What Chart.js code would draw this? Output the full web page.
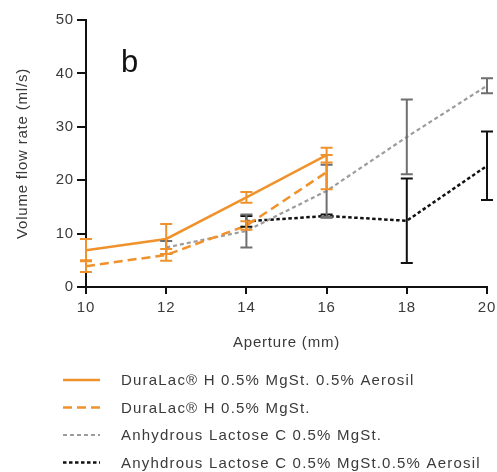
<!DOCTYPE html>
<html>
<head>
<meta charset="utf-8">
<script src="https://cdn.jsdelivr.net/npm/chart.js@4.4.0/dist/chart.umd.min.js"></script>
<style>
  html, body { margin: 0; padding: 0; background: #fff; }
  #flowChart { display: block; }
</style>
</head>
<body>
<canvas id="flowChart" width="497" height="472"></canvas>
<script>
// aperture (mm) on the x axis
const apertures = [10, 12, 14, 16, 18, 20];

// mean volume flow rate (ml/s), null where not measured
const duraAerosil = [6.9, 9.0, 16.8, 24.7, null, null];
const duraAerosilErr = [2.1, 2.8, 1.0, 1.4, null, null];

const duraMgSt = [3.9, 6.0, 11.5, 21.5, null, null];
const duraMgStErr = [1.1, 1.1, 0.8, 3.2, null, null];

const anhMgSt = [null, 7.4, 10.5, 18.0, 28.1, 37.7];
const anhMgStErr = [null, 1.2, 3.1, 4.9, 7.0, 1.4];

const anhAerosil = [null, null, 12.3, 13.3, 12.4, 22.7];
const anhAerosilErr = [null, null, 1.0, 0.3, 7.9, 6.4];

const xTicks = [10, 12, 14, 16, 18, 20];
const yTicks = [0, 10, 20, 30, 40, 50];

const seriesNames = [
  'DuraLac\u00AE H 0.5% MgSt. 0.5% Aerosil',
  'DuraLac\u00AE H 0.5% MgSt.',
  'Anhydrous Lactose C 0.5% MgSt.',
  'Anyhdrous Lactose C 0.5% MgSt.0.5% Aerosil'
];

const FONT = '"Liberation Sans", Arial, sans-serif';
const TEXT = '#3a3a3a';

function points(vals) {
  return apertures.map((x, i) => ({ x: x, y: vals[i] }));
}

// the original lettering is a little wide
const spacing = {
  id: 'spacing',
  beforeDraw(chart) { chart.ctx.letterSpacing = '0.8px'; }
};

// vertical error bars drawn through the chart's own scales
const errorBars = {
  id: 'errorBars',
  afterDatasetsDraw(chart) {
    const ctx = chart.ctx;
    const xs = chart.scales.x, ys = chart.scales.y;
    for (let d = chart.data.datasets.length - 1; d >= 0; d--) {
      const ds = chart.data.datasets[d];
      if (!ds.err) continue;
      ctx.save();
      ctx.strokeStyle = ds.errColor;
      ctx.lineWidth = 2;
      ctx.setLineDash([]);
      ds.data.forEach((p, i) => {
        const e = ds.err[i];
        if (p.y == null || e == null) return;
        const px = xs.getPixelForValue(p.x);
        const top = ys.getPixelForValue(p.y + e);
        const bot = ys.getPixelForValue(p.y - e);
        ctx.beginPath();
        ctx.moveTo(px, top); ctx.lineTo(px, bot);
        ctx.moveTo(px - 6, top); ctx.lineTo(px + 6, top);
        ctx.moveTo(px - 6, bot); ctx.lineTo(px + 6, bot);
        ctx.stroke();
      });
      ctx.restore();
    }
  }
};

// panel letter and the stacked legend below the axes
const extras = {
  id: 'extras',
  afterDraw(chart) {
    const ctx = chart.ctx;
    ctx.save();
    ctx.fillStyle = '#111';
    ctx.font = '31px ' + FONT;
    ctx.letterSpacing = '0px';
    ctx.textBaseline = 'alphabetic';
    ctx.fillText('b', 121, 72);

    ctx.font = '15px ' + FONT;
    ctx.letterSpacing = '1.2px';
    ctx.textBaseline = 'middle';
    chart.data.datasets.forEach((ds, i) => {
      const y = 380 + i * 27.5;
      ctx.strokeStyle = ds.borderColor;
      ctx.lineWidth = ds.borderWidth;
      ctx.setLineDash(ds.borderDash || []);
      ctx.beginPath();
      ctx.moveTo(63, y); ctx.lineTo(100, y);
      ctx.stroke();
      ctx.fillStyle = TEXT;
      ctx.fillText(ds.label, 121, y + 1);
    });
    ctx.restore();
  }
};

const ctx = document.getElementById('flowChart').getContext('2d');
const flowChart = new Chart(ctx, {
  type: 'line',
  data: {
    datasets: [{
      label: seriesNames[0],
      data: points(duraAerosil),
      err: duraAerosilErr,
      errColor: '#F0922B',
      borderColor: '#F0922B',
      borderWidth: 2.5,
      borderDash: []
    }, {
      label: seriesNames[1],
      data: points(duraMgSt),
      err: duraMgStErr,
      errColor: '#F0922B',
      borderColor: '#F0922B',
      borderWidth: 2.5,
      borderDash: [9, 5]
    }, {
      label: seriesNames[2],
      data: points(anhMgSt),
      err: anhMgStErr,
      errColor: '#6f6f6f',
      borderColor: '#9c9c9c',
      borderWidth: 2.2,
      borderDash: [4, 3]
    }, {
      label: seriesNames[3],
      data: points(anhAerosil),
      err: anhAerosilErr,
      errColor: '#111',
      borderColor: '#111',
      borderWidth: 2.5,
      borderDash: [3.5, 2.5]
    }]
  },
  options: {
    responsive: false,
    animation: false,
    layout: { padding: { left: 10, right: 10, top: 20, bottom: 116 } },
    elements: { point: { radius: 0 }, line: { tension: 0 } },
    plugins: {
      legend: { display: false },
      tooltip: { enabled: false }
    },
    scales: {
      x: {
        type: 'linear',
        min: 10, max: 20,
        afterBuildTicks: (s) => { s.ticks = xTicks.map(v => ({ value: v })); },
        afterFit: (s) => { s.paddingRight = 0; },
        border: { color: '#111', width: 2 },
        grid: { drawOnChartArea: false, color: '#111', lineWidth: 2, tickLength: 7 },
        ticks: { color: TEXT, font: { family: FONT, size: 15 }, padding: 5 },
        title: { display: true, text: 'Aperture (mm)', color: TEXT, font: { family: FONT, size: 15 }, padding: { top: 12 } }
      },
      y: {
        min: 0, max: 50,
        afterBuildTicks: (s) => { s.ticks = yTicks.map(v => ({ value: v })); },
        afterFit: (s) => { s.width = 76; },
        border: { color: '#111', width: 2 },
        grid: { drawOnChartArea: false, color: '#111', lineWidth: 2, tickLength: 9 },
        ticks: { color: TEXT, font: { family: FONT, size: 15 }, padding: 3 },
        title: { display: true, text: 'Volume flow rate (ml/s)', color: TEXT, font: { family: FONT, size: 15 }, padding: { bottom: 14 } }
      }
    }
  },
  plugins: [spacing, errorBars, extras]
});
</script>
</body>
</html>
